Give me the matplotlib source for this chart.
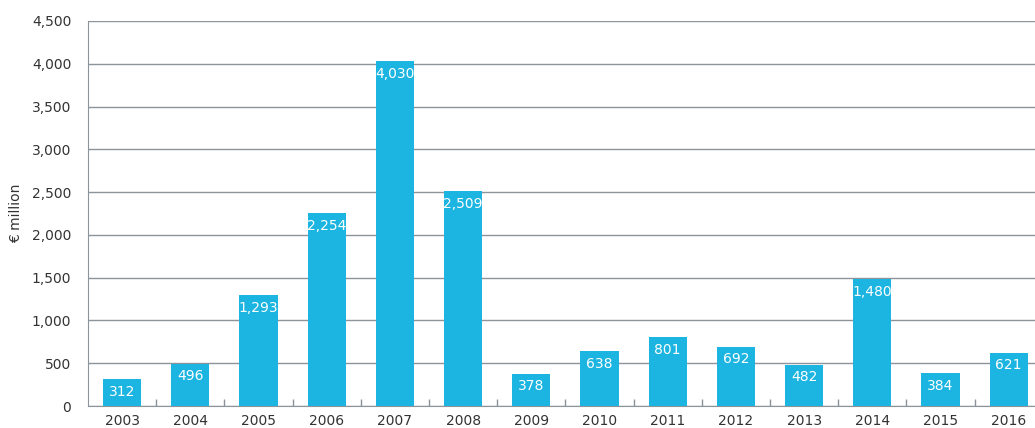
import matplotlib.pyplot as plt
import numpy as np

years = ['2003', '2004', '2005', '2006', '2007', '2008', '2009',
         '2010', '2011', '2012', '2013', '2014', '2015', '2016']
values = [312, 496, 1293, 2254, 4030, 2509, 378, 638, 801, 692, 482, 1480, 384, 621]

bar_color = '#1cb4e0'
grid_color = '#8c939a'
text_color = '#333333'

fig = plt.figure(figsize=(10.35, 4.28), dpi=100)
ax = fig.add_axes([88 / 1035, 22 / 428, 947 / 1035, 385 / 428])

x = np.arange(len(years))
bars = ax.bar(x, values, width=0.56, color=bar_color, zorder=3)

for xi, v in zip(x, values):
    ax.annotate(f'{v:,}', (xi, v), xytext=(0, -4), textcoords='offset points',
                ha='center', va='top', color='white', fontsize=10, zorder=4)

ax.set_ylim(0, 4500)
ax.set_yticks(np.arange(0, 4501, 500))
ax.set_yticklabels([f'{t:,}' for t in range(0, 4501, 500)])
ax.set_xlim(-0.5, 13.385)
ax.set_xticks(x)
ax.set_xticklabels(years)
ax.tick_params(axis='x', length=0, pad=6, labelsize=10, labelcolor=text_color)
ax.tick_params(axis='y', length=0, pad=12, labelsize=10, labelcolor=text_color)

# small marks between categories
ax.set_xticks(np.arange(0.5, 13, 1), minor=True)
ax.tick_params(axis='x', which='minor', direction='in', length=5, color=grid_color, width=1)

ax.yaxis.grid(True, color=grid_color, linewidth=1)
ax.set_axisbelow(True)
for s in ['top', 'right']:
    ax.spines[s].set_visible(False)
ax.spines['left'].set_color(grid_color)
ax.spines['bottom'].set_color(grid_color)

ax.set_ylabel('€ million', fontsize=10, color=text_color, labelpad=6)

fig.savefig('out.png', dpi=100)
